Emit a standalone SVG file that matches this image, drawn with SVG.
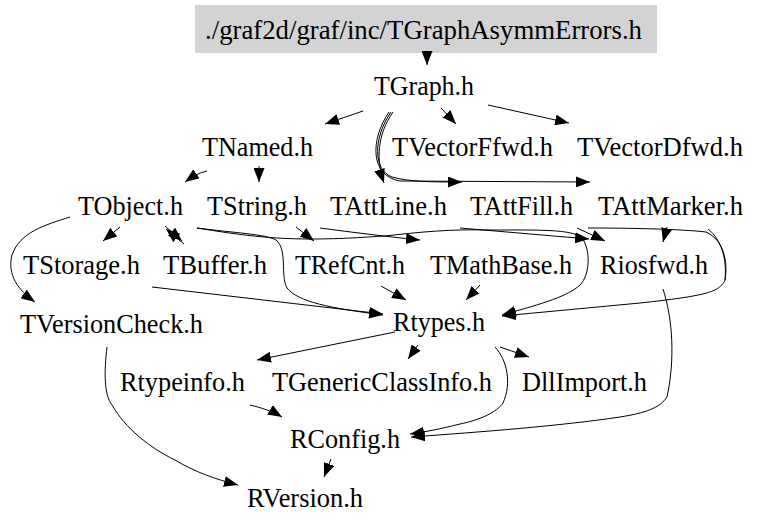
<svg xmlns="http://www.w3.org/2000/svg" width="761" height="528" viewBox="0 0 761 528">
<style>
text{font-family:"Liberation Serif","Times New Roman","DejaVu Serif",serif;font-size:28px;fill:#000;text-anchor:middle}
.e{fill:none;stroke:#000;stroke-width:1;marker-end:url(#ah)}
.l{fill:none;stroke:#000;stroke-width:1}
</style>
<defs>
<marker id="ah" viewBox="0 0 14 11" refX="14" refY="5.5" markerWidth="14" markerHeight="11" markerUnits="userSpaceOnUse" orient="auto">
<path d="M0,0 L14,5.5 L0,11 z" fill="#000"/>
</marker>
</defs>
<rect width="761" height="528" fill="#fff"/>
<g id="n_root"><rect x="195" y="5" width="462" height="48" fill="#d3d3d3"/><text x="423.5" y="39" textLength="437" lengthAdjust="spacingAndGlyphs">./graf2d/graf/inc/TGraphAsymmErrors.h</text></g>
<g id="n_TGraph"><text x="424" y="95" textLength="100" lengthAdjust="spacingAndGlyphs">TGraph.h</text></g>
<g id="n_TNamed"><text x="257.5" y="156" textLength="111" lengthAdjust="spacingAndGlyphs">TNamed.h</text></g>
<g id="n_TVectorFfwd"><text x="472.5" y="156" textLength="161" lengthAdjust="spacingAndGlyphs">TVectorFfwd.h</text></g>
<g id="n_TVectorDfwd"><text x="660" y="156" textLength="166" lengthAdjust="spacingAndGlyphs">TVectorDfwd.h</text></g>
<g id="n_TObject"><text x="130.5" y="215" textLength="105" lengthAdjust="spacingAndGlyphs">TObject.h</text></g>
<g id="n_TString"><text x="257" y="215" textLength="100" lengthAdjust="spacingAndGlyphs">TString.h</text></g>
<g id="n_TAttLine"><text x="388.5" y="215" textLength="117" lengthAdjust="spacingAndGlyphs">TAttLine.h</text></g>
<g id="n_TAttFill"><text x="521.5" y="215" textLength="103" lengthAdjust="spacingAndGlyphs">TAttFill.h</text></g>
<g id="n_TAttMarker"><text x="670.5" y="215" textLength="145" lengthAdjust="spacingAndGlyphs">TAttMarker.h</text></g>
<g id="n_TStorage"><text x="81.5" y="274" textLength="117" lengthAdjust="spacingAndGlyphs">TStorage.h</text></g>
<g id="n_TBuffer"><text x="215" y="274" textLength="104" lengthAdjust="spacingAndGlyphs">TBuffer.h</text></g>
<g id="n_TRefCnt"><text x="350" y="274" textLength="110" lengthAdjust="spacingAndGlyphs">TRefCnt.h</text></g>
<g id="n_TMathBase"><text x="501" y="274" textLength="142" lengthAdjust="spacingAndGlyphs">TMathBase.h</text></g>
<g id="n_Riosfwd"><text x="654" y="274" textLength="108" lengthAdjust="spacingAndGlyphs">Riosfwd.h</text></g>
<g id="n_TVersionCheck"><text x="111.5" y="333" textLength="183" lengthAdjust="spacingAndGlyphs">TVersionCheck.h</text></g>
<g id="n_Rtypes"><text x="439" y="331" textLength="92" lengthAdjust="spacingAndGlyphs">Rtypes.h</text></g>
<g id="n_Rtypeinfo"><text x="182.5" y="391" textLength="125" lengthAdjust="spacingAndGlyphs">Rtypeinfo.h</text></g>
<g id="n_TGenericClassInfo"><text x="382" y="391" textLength="220" lengthAdjust="spacingAndGlyphs">TGenericClassInfo.h</text></g>
<g id="n_DllImport"><text x="584.5" y="391" textLength="125" lengthAdjust="spacingAndGlyphs">DllImport.h</text></g>
<g id="n_RConfig"><text x="345" y="448" textLength="110" lengthAdjust="spacingAndGlyphs">RConfig.h</text></g>
<g id="n_RVersion"><text x="305" y="507" textLength="116" lengthAdjust="spacingAndGlyphs">RVersion.h</text></g>
<g id="connectors">
<path class="e" d="M427,51 L427,65"/>
<path class="e" d="M363,111 L325,124"/>
<path class="e" d="M441,108 L456,124"/>
<path class="e" d="M488,105 L569,123"/>
<path class="e" d="M393,112 C377,135 376,160 384,183"/>
<path class="e" d="M391,112 C373,138 373,170 392,177 C410,182 432,182 462,182"/>
<path class="e" d="M389,112 C370,140 370,176 400,181 L590,182"/>
<path class="e" d="M207,171 C198,173 192,177 185,182"/>
<path class="e" d="M259,166 L259,182"/>
<path class="e" d="M120,227 L103,241"/>
<path class="e" d="M165,226 L182,241"/>
<path class="e" d="M184,244 L166,229"/>
<path class="e" d="M70,217 C45,225 20,232 12,255 C7,275 18,290 35,302"/>
<path class="e" d="M197,228 C235,233 265,234 276,240 C288,250 280,275 287,288 C298,302 330,308 383,315"/>
<path class="e" d="M152,287 L383,314"/>
<path class="e" d="M296,227 L314,241"/>
<path class="e" d="M320,228 C350,232 390,237 420,240"/>
<path class="e" d="M197,228 C240,235 270,239 310,239 C345,239 365,237 385,236 C420,232 450,229 490,230 C540,230 572,229 582,238 C591,250 590,275 580,285 C568,296 545,303 502,315"/>
<path class="e" d="M460,228 L589,239"/>
<path class="e" d="M577,228 L605,241"/>
<path class="e" d="M667,227 L663,242"/>
<path class="e" d="M588,228 C630,228 680,229 706,232 C724,240 728,262 725,280 C720,292 705,296 640,303 L502,316"/>
<path class="l" d="M708,229 C722,240 727,260 725,280"/>
<path class="e" d="M381,286 L406,300"/>
<path class="e" d="M480,285 L466,300"/>
<path class="e" d="M663,289 C673,320 675,360 667,397 C660,408 645,413 620,417 C560,426 480,432 411,437"/>
<path class="e" d="M495,347 C507,360 512,383 503,403 C497,412 480,420 460,424 C440,429 425,432 410,434"/>
<path class="e" d="M500,347 L529,357"/>
<path class="e" d="M418,345 L408,359"/>
<path class="e" d="M395,332 L257,360"/>
<path class="e" d="M250,405 C262,408 272,411 282,417"/>
<path class="e" d="M331,459 L324,477"/>
<path class="e" d="M107,347 C104,372 104,395 112,405 C125,428 150,448 175,460 C195,472 215,479 238,485"/>
</g>
</svg>
